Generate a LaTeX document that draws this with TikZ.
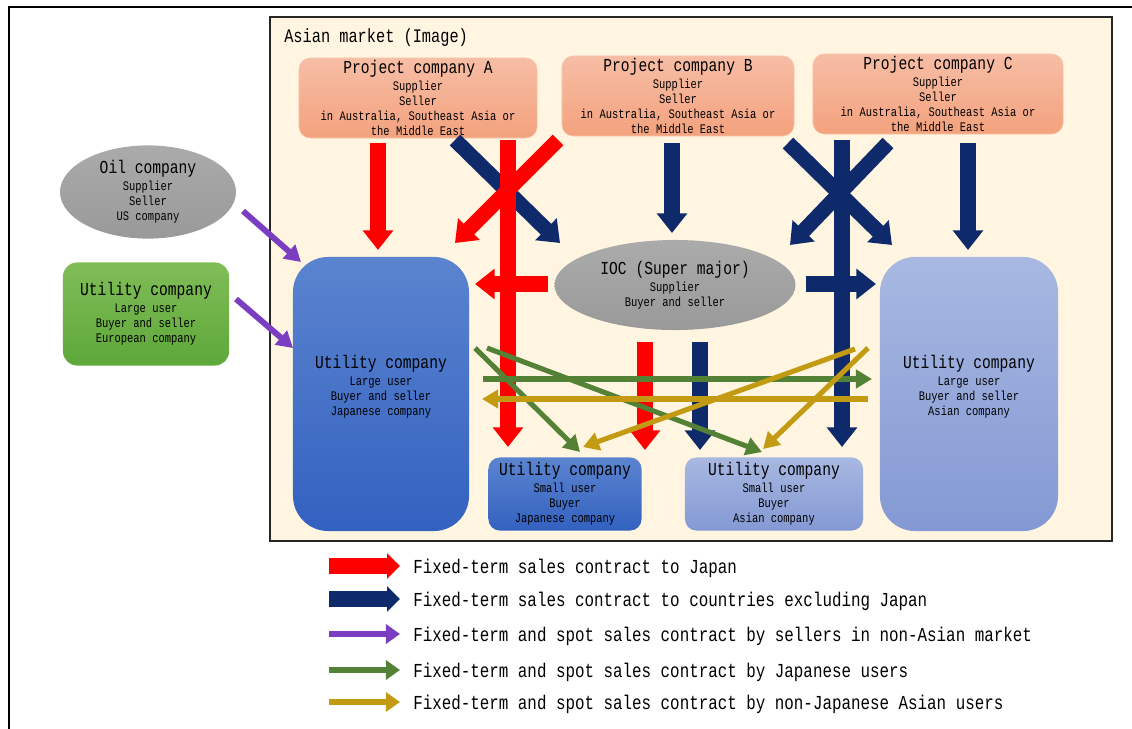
\documentclass[tikz,border=0pt]{standalone}
\usepackage{fontspec}
\setmainfont{Liberation Mono}[FakeStretch=0.8]
\usepackage{tikz}
\usetikzlibrary{arrows.meta,shapes.geometric}
\definecolor{Cream}{HTML}{FFF5E1}
\definecolor{SalmonTop}{HTML}{F6BDA5}
\definecolor{SalmonBot}{HTML}{F4A27E}
\definecolor{SalmonLine}{HTML}{F9C6AE}
\definecolor{GreyTop}{HTML}{ABABAB}
\definecolor{GreyBot}{HTML}{999999}
\definecolor{LeafTop}{HTML}{80BD57}
\definecolor{LeafBot}{HTML}{5EA83A}
\definecolor{DeepTop}{HTML}{5B84CF}
\definecolor{DeepBot}{HTML}{3361C0}
\definecolor{PaleTop}{HTML}{A8B8E1}
\definecolor{PaleBot}{HTML}{8499D4}
\definecolor{ArrRed}{HTML}{FF0000}
\definecolor{ArrNavy}{HTML}{0E2A6B}
\definecolor{ArrPurple}{HTML}{7C3EC0}
\definecolor{ArrGreen}{HTML}{538135}
\definecolor{ArrGold}{HTML}{C39B12}
\newcommand\boxtitle{\fontsize{13}{15}\selectfont}
\newcommand\boxsub{\fontsize{9.3}{10.7}\selectfont}
\newcommand\keytext{\fontsize{14.1}{16}\selectfont}

\begin{document}
\begin{tikzpicture}[
  x=0.025cm,y=-0.025cm,
  market/.style={draw=black!85,line width=1.2pt,fill=Cream,minimum width=21.05cm,minimum height=13.1cm},
  proj/.style={rounded corners=8pt,draw=SalmonLine,top color=SalmonTop,bottom color=SalmonBot,font=\boxsub,align=center,minimum height=2cm,inner sep=1pt},
  oval/.style={ellipse,top color=GreyTop,bottom color=GreyBot,font=\boxsub,align=center,inner sep=0pt},
  leaf/.style={rounded corners=10pt,top color=LeafTop,bottom color=LeafBot,font=\boxsub,align=center},
  deep/.style={rounded corners=25pt,top color=DeepTop,bottom color=DeepBot,font=\boxsub,align=center},
  pale/.style={rounded corners=25pt,top color=PaleTop,bottom color=PaleBot,font=\boxsub,align=center},
  fatred/.style={draw=ArrRed,line width=10.7pt,-{Triangle[width=21pt,length=14pt]}},
  fatnavy/.style={draw=ArrNavy,line width=10.7pt,-{Triangle[width=21pt,length=14pt]}},
  thin/.style={line width=3.6pt,-{Triangle[width=12.8pt,length=11.4pt]}},
  keyfat/.style={line width=11.4pt,-{Triangle[width=17.8pt,length=9.2pt]}},
  keythin/.style={line width=3.6pt,-{Triangle[width=13.5pt,length=10pt]}},
  keylabel/.style={anchor=west,font=\keytext,inner sep=0pt}
]
\useasboundingbox (0,0) rectangle (1132,729);
\draw[line width=2pt] (9,729) -- (9,7) -- (1132,7);
\node[market] (asia) at (691,279) {};
\node[anchor=west,font=\fontsize{13.6}{15}\selectfont,inner sep=0pt] (asialbl) at (284,38) {Asian market (Image)};

\node[proj,minimum width=5.95cm] (pA) at (418,98) {{\boxtitle Project company A}\\[1.5pt]Supplier\\Seller\\in Australia, Southeast Asia or\\the Middle East};
\node[proj,minimum width=5.8cm] (pB) at (678,96) {{\boxtitle Project company B}\\[1.5pt]Supplier\\Seller\\in Australia, Southeast Asia or\\the Middle East};
\node[proj,minimum width=6.25cm] (pC) at (938,94) {{\boxtitle Project company C}\\[1.5pt]Supplier\\Seller\\in Australia, Southeast Asia or\\the Middle East};
\node[oval,minimum width=4.4cm,minimum height=2.33cm] (oil) at (148,192) {{\boxtitle Oil company}\\[1.5pt]Supplier\\Seller\\US company};
\node[leaf,minimum width=4.15cm,minimum height=2.575cm] (ueu) at (146,314) {{\boxtitle Utility company}\\[1.5pt]Large user\\Buyer and seller\\European company};
\node[deep,minimum width=4.4cm,minimum height=6.85cm] (ujl) at (381,394) {{\boxtitle Utility company}\\[1.5pt]Large user\\Buyer and seller\\Japanese company\\[2pt]\mbox{}};
\node[oval,minimum width=6.025cm,minimum height=2.25cm] (ioc) at (675,285) {{\boxtitle IOC (Super major)}\\[1.5pt]Supplier\\Buyer and seller};
\node[pale,minimum width=4.45cm,minimum height=6.85cm] (ual) at (969,394) {{\boxtitle Utility company}\\[1.5pt]Large user\\Buyer and seller\\Asian company\\[2pt]\mbox{}};
\node[deep,rounded corners=8pt,minimum width=3.825cm,minimum height=1.825cm] (ujs) at (565,494) {{\boxtitle Utility company}\\[1.5pt]Small user\\Buyer\\Japanese company};
\node[pale,rounded corners=8pt,minimum width=4.45cm,minimum height=1.825cm] (uas) at (774,494) {{\boxtitle Utility company}\\[1.5pt]Small user\\Buyer\\Asian company};

% arrow ends
\coordinate (r1a) at (378,143); \coordinate (r1b) at (378,250);
\coordinate (r2a) at (558,140); \coordinate (r2b) at (455,243);
\coordinate (r3a) at (508,140); \coordinate (r3b) at (508,447);
\coordinate (r4a) at (548,284); \coordinate (r4b) at (475,284);
\coordinate (r5a) at (645,342); \coordinate (r5b) at (645,450);
\coordinate (n1a) at (455,140); \coordinate (n1b) at (560,243);
\coordinate (n2a) at (672,143); \coordinate (n2b) at (672,233);
\coordinate (n3a) at (788,143); \coordinate (n3b) at (892,245);
\coordinate (n4a) at (888,143); \coordinate (n4b) at (790,245);
\coordinate (n5a) at (842,140); \coordinate (n5b) at (842,447);
\coordinate (n6a) at (968,143); \coordinate (n6b) at (968,250);
\coordinate (n7a) at (806,284); \coordinate (n7b) at (876,284);
\coordinate (n8a) at (700,342); \coordinate (n8b) at (700,450);
\coordinate (g1a) at (475,348); \coordinate (g1b) at (580,452);
\coordinate (g2a) at (487,348); \coordinate (g2b) at (762,452);
\coordinate (g3a) at (483,379); \coordinate (g3b) at (872,379);
\coordinate (y1a) at (868,399); \coordinate (y1b) at (482,399);
\coordinate (y2a) at (855,349); \coordinate (y2b) at (583,447);
\coordinate (y3a) at (868,348); \coordinate (y3b) at (763,449);
\coordinate (p1a) at (243,211); \coordinate (p1b) at (301,262);
\coordinate (p2a) at (236,299); \coordinate (p2b) at (293,348);

\foreach \a/\b in {n1a/n1b,n2a/n2b,n3a/n3b,n4a/n4b,n7a/n7b,n5a/n5b,n6a/n6b,n8a/n8b} {
  \draw[fatnavy] (\a) -- (\b);
}
\foreach \a/\b in {r1a/r1b,r2a/r2b,r4a/r4b,r3a/r3b,r5a/r5b} {
  \draw[fatred] (\a) -- (\b);
}
\foreach \a/\b in {g1a/g1b,g2a/g2b,g3a/g3b} {
  \draw[thin,ArrGreen] (\a) -- (\b);
}
\foreach \a/\b in {y1a/y1b,y2a/y2b,y3a/y3b} {
  \draw[thin,ArrGold] (\a) -- (\b);
}
\foreach \a/\b in {p1a/p1b,p2a/p2b} {
  \draw[thin,ArrPurple,line width=4.2pt] (\a) -- (\b);
}

% key
\foreach \i/\yy/\sty/\col/\txt in {
  1/566/keyfat/ArrRed/{Fixed-term sales contract to Japan},
  2/599/keyfat/ArrNavy/{Fixed-term sales contract to countries excluding Japan},
  3/634/keythin/ArrPurple/{Fixed-term and spot sales contract by sellers in non-Asian market},
  4/670/keythin/ArrGreen/{Fixed-term and spot sales contract by Japanese users},
  5/702/keythin/ArrGold/{Fixed-term and spot sales contract by non-Japanese Asian users}} {
  \coordinate (ka\i) at (329,\yy);
  \coordinate (kb\i) at (400,\yy);
  \draw[\sty,draw=\col] (ka\i) -- (kb\i);
  \node[keylabel] (kt\i) at (413,\yy+2) {\txt};
}
\end{tikzpicture}
\end{document}
